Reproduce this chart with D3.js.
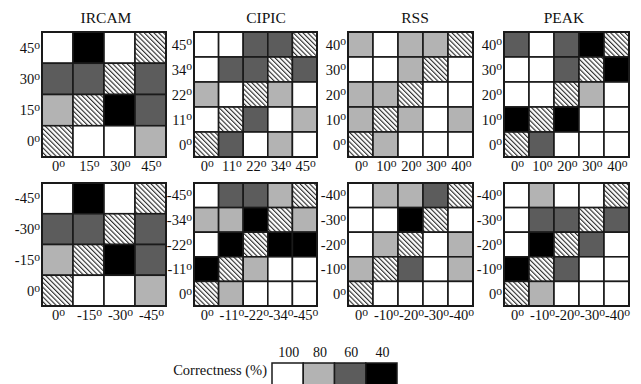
<!DOCTYPE html>
<html><head><meta charset="utf-8">
<script src="https://cdn.jsdelivr.net/npm/d3@7"></script>
<style>
html,body{margin:0;padding:0;background:#fff;}
svg{display:block;}
text{font-family:"Liberation Serif","Times New Roman",serif;fill:#111;}
</style></head>
<body>
<svg id="chart" width="641" height="384"></svg>
<script>
// ---- data (null = hatched reference cell); rows listed top -> bottom ----
const panelNames = ["IRCAM", "CIPIC", "RSS", "PEAK"];
const ircamTicks = [0, 15, 30, 45];
const cipicTicks = [0, 11, 22, 34, 45];
const rssTicks = [0, 10, 20, 30, 40];
const peakTicks = [0, 10, 20, 30, 40];

const ircamUpper = [[100,40,100,null],[60,60,null,60],[80,null,40,60],[null,100,100,80]];
const cipicUpper = [[100,100,60,60,null],[100,60,60,null,60],[80,100,null,80,100],[100,null,60,100,80],[null,60,100,80,100]];
const rssUpper   = [[80,100,80,80,null],[100,100,80,null,100],[80,80,null,100,100],[80,null,80,100,80],[null,80,100,100,100]];
const peakUpper  = [[60,100,60,40,null],[100,100,60,null,40],[100,100,null,80,100],[40,null,40,100,100],[null,60,100,100,100]];

const ircamLower = [[100,40,100,null],[60,60,null,60],[80,null,40,60],[null,100,100,80]];
const cipicLower = [[100,60,60,80,null],[80,80,40,null,80],[100,40,null,40,40],[40,null,80,100,100],[null,80,100,100,100]];
const rssLower   = [[100,80,80,60,null],[100,100,40,null,100],[100,80,null,100,80],[80,null,60,100,80],[null,100,100,100,100]];
const peakLower  = [[100,80,100,100,null],[100,60,60,null,60],[100,40,null,60,100],[40,null,60,100,100],[null,80,100,100,100]];

const legendValues = [100, 80, 60, 40];
const legendTitle = "Correctness (%)";

// ---- styling / layout ----
const color = d3.scaleOrdinal().domain(legendValues).range(["#ffffff", "#b3b3b3", "#5c5c5c", "#000000"]);
const svg = d3.select("#chart");

const defs = svg.append("defs");
const hs = 3.4;
const pat = defs.append("pattern").attr("id", "hatch")
  .attr("patternUnits", "userSpaceOnUse").attr("width", hs).attr("height", hs)
  .attr("patternTransform", "rotate(-45)");
pat.append("rect").attr("width", hs).attr("height", hs).attr("fill", "#fff");
pat.append("line").attr("x1", 0.6).attr("y1", 0).attr("x2", 0.6).attr("y2", hs)
  .attr("stroke", "#111").attr("stroke-width", 1.0);

const tickSets = [ircamTicks, cipicTicks, rssTicks, peakTicks];
const upper = [ircamUpper, cipicUpper, rssUpper, peakUpper];
const lower = [ircamLower, cipicLower, rssLower, peakLower];

const colX = [[42,166],[194,317],[348,473],[504,629]];
const rowY = [[32,157],[183,306]];
const titleX = [106, 266, 415, 564];
const tickFont = 14.5;

function degLabel(sel, v, neg) {
  const s = (neg && v !== 0 ? "-" : "") + v;
  sel.append("tspan").text(s);
  sel.append("tspan").attr("font-size", "0.8em").attr("dy", "-0.35em").text("o");
}

function drawPanel(pi, ri, data, neg) {
  const ticks = tickSets[pi];
  const [x0, x1] = colX[pi];
  const [y0, y1] = rowY[ri];
  const x = d3.scaleBand().domain(ticks).range([x0, x1]);
  const y = d3.scaleBand().domain(ticks.slice().reverse()).range([y0, y1]);
  const yTop = ticks.slice().reverse();
  const g = svg.append("g");
  const cells = [];
  data.forEach((row, r) => row.forEach((v, c) => cells.push({xv: ticks[c], yv: yTop[r], v})));
  g.selectAll("rect.cell").data(cells).join("rect").attr("class", "cell")
    .attr("x", d => x(d.xv)).attr("y", d => y(d.yv))
    .attr("width", x.bandwidth()).attr("height", y.bandwidth())
    .attr("fill", d => d.v === null ? "url(#hatch)" : color(d.v))
    .attr("stroke", "#1a1a1a").attr("stroke-width", 1.6);
  g.append("rect").attr("x", x0).attr("y", y0).attr("width", x1 - x0).attr("height", y1 - y0)
    .attr("fill", "none").attr("stroke", "#1a1a1a").attr("stroke-width", 2);
  // x tick labels
  ticks.forEach(t => {
    const tx = g.append("text").attr("x", x(t) + x.bandwidth() / 2 + 1).attr("y", y1 + 14)
      .attr("text-anchor", "middle").attr("font-size", tickFont);
    degLabel(tx, t, neg);
  });
  // y tick labels
  ticks.forEach(t => {
    const ty = g.append("text").attr("x", x0 - 2).attr("y", y(t) + y.bandwidth() / 2 + 5)
      .attr("text-anchor", "end").attr("font-size", tickFont);
    degLabel(ty, t, neg);
  });
  if (ri === 0) {
    svg.append("text").attr("x", titleX[pi]).attr("y", 23).attr("text-anchor", "middle")
      .attr("font-size", 15.5).text(panelNames[pi]);
  }
}

for (let i = 0; i < 4; i++) {
  drawPanel(i, 0, upper[i], false);
  drawPanel(i, 1, lower[i], true);
}

// legend
const lx = d3.scaleBand().domain(legendValues).range([272, 397]);
const lg = svg.append("g");
lg.selectAll("rect").data(legendValues).join("rect")
  .attr("x", d => lx(d)).attr("y", 363).attr("width", lx.bandwidth()).attr("height", 24)
  .attr("fill", d => color(d)).attr("stroke", "#1a1a1a").attr("stroke-width", 1.5);
lg.selectAll("text.lv").data(legendValues).join("text").attr("class", "lv")
  .attr("x", d => lx(d) + lx.bandwidth() / 2 + 1).attr("y", 357).attr("text-anchor", "middle")
  .attr("font-size", 14).text(d => d);
lg.append("text").attr("x", 267).attr("y", 375).attr("text-anchor", "end")
  .attr("font-size", 14.5).text(legendTitle);
</script>
</body></html>
